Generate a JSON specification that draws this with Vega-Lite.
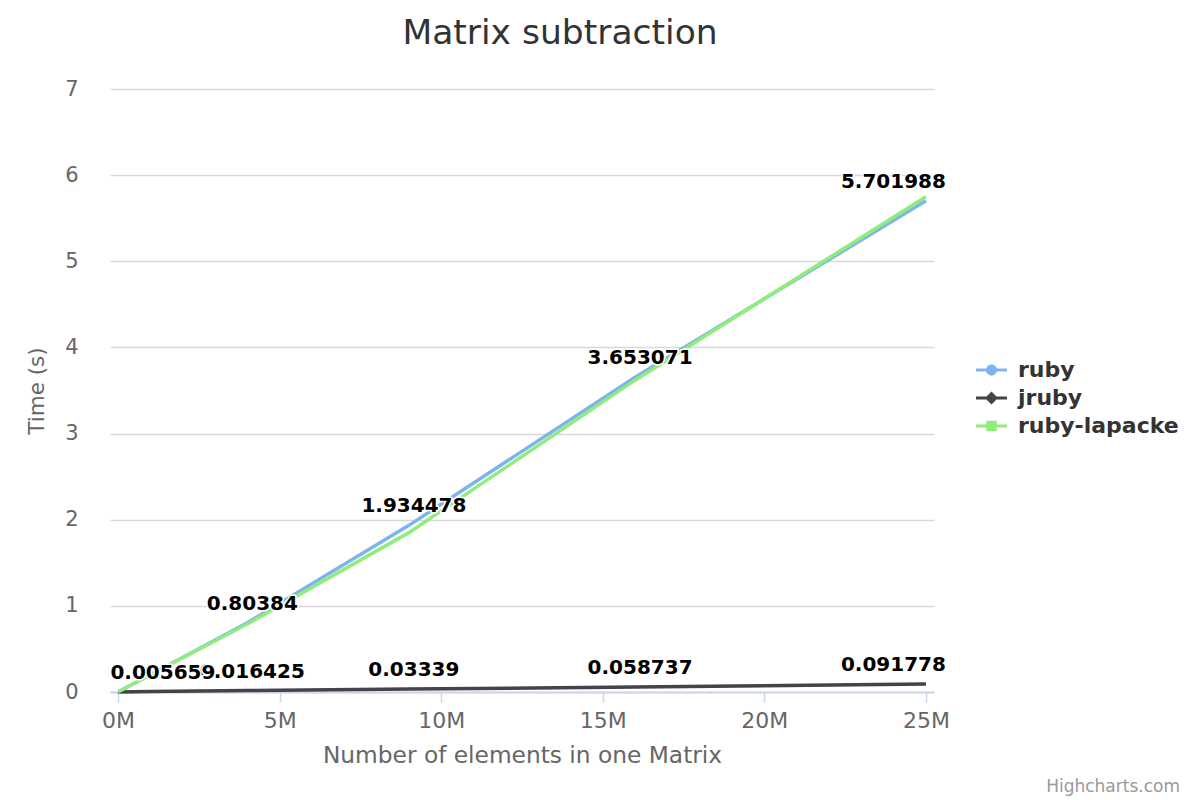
{
  "$schema": "https://vega.github.io/schema/vega-lite/v6.json",
  "width": 824,
  "height": 603,
  "autosize": {"type": "none"},
  "padding": {"left": 110, "top": 89, "right": 266, "bottom": 108},
  "background": "#ffffff",
  "title": {
    "text": "Matrix subtraction",
    "frame": "group",
    "anchor": "middle",
    "baseline": "alphabetic",
    "offset": 0,
    "dx": 38,
    "font": "DejaVu Sans",
    "fontSize": 34.5,
    "fontWeight": "normal",
    "color": "#333333"
  },
  "data": {
    "values": [
      {"series": "ruby", "elements": 10000, "time": 0.002},
      {"series": "ruby", "elements": 1000000, "time": 0.2},
      {"series": "ruby", "elements": 4000000, "time": 0.80384},
      {"series": "ruby", "elements": 9000000, "time": 1.934478},
      {"series": "ruby", "elements": 16000000, "time": 3.653071},
      {"series": "ruby", "elements": 25000000, "time": 5.701988},
      {"series": "jruby", "elements": 10000, "time": 0.0005},
      {"series": "jruby", "elements": 1000000, "time": 0.005659},
      {"series": "jruby", "elements": 4000000, "time": 0.016425},
      {"series": "jruby", "elements": 9000000, "time": 0.03339},
      {"series": "jruby", "elements": 16000000, "time": 0.058737},
      {"series": "jruby", "elements": 25000000, "time": 0.091778},
      {"series": "ruby-lapacke", "elements": 10000, "time": 0.002},
      {"series": "ruby-lapacke", "elements": 1000000, "time": 0.2},
      {"series": "ruby-lapacke", "elements": 4000000, "time": 0.79},
      {"series": "ruby-lapacke", "elements": 9000000, "time": 1.85},
      {"series": "ruby-lapacke", "elements": 16000000, "time": 3.62},
      {"series": "ruby-lapacke", "elements": 25000000, "time": 5.75}
    ]
  },
  "layer": [
    {
      "mark": {"type": "line", "strokeWidth": 3.5, "interpolate": "linear"},
      "encoding": {
        "x": {
          "field": "elements",
          "type": "quantitative",
          "scale": {"domain": [-250000, 25250000], "nice": false, "zero": false},
          "axis": {
            "title": "Number of elements in one Matrix",
            "values": [0, 5000000, 10000000, 15000000, 20000000, 25000000],
            "labelExpr": "(datum.value / 1000000) + 'M'",
            "grid": false,
            "domainColor": "#ccd6eb",
            "domainWidth": 2,
            "tickColor": "#ccd6eb",
            "tickWidth": 1.5,
            "tickSize": 10,
            "labelPadding": 8,
            "labelFontSize": 22,
            "labelColor": "#666666",
            "labelFont": "DejaVu Sans",
            "titleFont": "DejaVu Sans",
            "titleFontSize": 23.3,
            "titleFontWeight": "normal",
            "titleColor": "#666666",
            "titlePadding": 13
          }
        },
        "y": {
          "field": "time",
          "type": "quantitative",
          "scale": {"domain": [0, 7], "nice": false},
          "axis": {
            "title": "Time (s)",
            "values": [0, 1, 2, 3, 4, 5, 6, 7],
            "format": "d",
            "domain": false,
            "ticks": false,
            "grid": true,
            "gridColor": "#d8d8d8",
            "gridWidth": 1.5,
            "labelPadding": 32,
            "labelFontSize": 21,
            "labelColor": "#666666",
            "labelFont": "DejaVu Sans",
            "titleFont": "DejaVu Sans",
            "titleFontSize": 21.5,
            "titleFontWeight": "normal",
            "titleColor": "#666666",
            "titlePadding": 16
          }
        },
        "color": {
          "field": "series",
          "type": "nominal",
          "scale": {"domain": ["ruby", "jruby", "ruby-lapacke"], "range": ["#7cb5ec", "#434348", "#90ed7d"]},
          "legend": {
            "title": null,
            "orient": "none",
            "legendX": 870.5,
            "legendY": 270,
            "padding": 0,
            "symbolSize": 400,
            "symbolOpacity": 1,
            "symbolStrokeWidth": 0,
            "labelFont": "DejaVu Sans",
            "labelFontSize": 22,
            "labelFontWeight": "bold",
            "labelColor": "#333333",
            "labelOffset": 15.5,
            "labelLimit": 300,
            "rowPadding": 6
          }
        },
        "order": {"field": "elements", "type": "quantitative"}
      }
    },
    {
      "mark": {"type": "point", "filled": true, "opacity": 0},
      "encoding": {
        "x": {"field": "elements", "type": "quantitative"},
        "y": {"field": "time", "type": "quantitative"},
        "color": {"field": "series", "type": "nominal"},
        "shape": {
          "field": "series",
          "type": "nominal",
          "scale": {
            "domain": ["ruby", "jruby", "ruby-lapacke"],
            "range": [
              "M-1.55,-0.15H1.55V0.15H-1.55Z M-0.55,0A0.55,0.55 0 1,1 0.55,0A0.55,0.55 0 1,1 -0.55,0Z",
              "M-1.55,-0.15H1.55V0.15H-1.55Z M0,-0.65L0.65,0L0,0.65L-0.65,0Z",
              "M-1.55,-0.15H1.55V0.15H-1.55Z M-0.52,-0.52H0.52V0.52H-0.52Z"
            ]
          },
          "legend": {
            "title": null,
            "orient": "none",
            "legendX": 870.5,
            "legendY": 270,
            "padding": 0,
            "symbolSize": 400,
            "symbolOpacity": 1,
            "symbolStrokeWidth": 0,
            "labelFont": "DejaVu Sans",
            "labelFontSize": 22,
            "labelFontWeight": "bold",
            "labelColor": "#333333",
            "labelOffset": 15.5,
            "labelLimit": 300,
            "rowPadding": 6
          }
        }
      }
    },
    {
      "transform": [{"filter": "(datum.series == 'ruby' || datum.series == 'jruby') && datum.elements >= 4000000 && datum.elements < 25000000"}],
      "encoding": {
        "x": {"field": "elements", "type": "quantitative"},
        "y": {"field": "time", "type": "quantitative"},
        "text": {"field": "time", "type": "quantitative", "format": ".7~g"}
      },
      "layer": [
        {"mark": {"type": "text", "align": "center", "baseline": "middle", "dx": 5, "dy": -19, "font": "DejaVu Sans", "fontSize": 20, "fontWeight": "bold", "stroke": "#ffffff", "strokeWidth": 3, "strokeJoin": "round", "fill": "#ffffff"}},
        {"mark": {"type": "text", "align": "center", "baseline": "middle", "dx": 5, "dy": -19, "font": "DejaVu Sans", "fontSize": 20, "fontWeight": "bold", "fill": "#000000"}}
      ]
    },
    {
      "transform": [{"filter": "datum.series == 'jruby' && datum.elements == 1000000"}],
      "encoding": {
        "x": {"field": "elements", "type": "quantitative"},
        "y": {"field": "time", "type": "quantitative"},
        "text": {"field": "time", "type": "quantitative", "format": ".7~g"}
      },
      "layer": [
        {"mark": {"type": "text", "align": "left", "baseline": "middle", "dx": -40, "dy": -19, "font": "DejaVu Sans", "fontSize": 20, "fontWeight": "bold", "stroke": "#ffffff", "strokeWidth": 3, "strokeJoin": "round", "fill": "#ffffff"}},
        {"mark": {"type": "text", "align": "left", "baseline": "middle", "dx": -40, "dy": -19, "font": "DejaVu Sans", "fontSize": 20, "fontWeight": "bold", "fill": "#000000"}}
      ]
    },
    {
      "transform": [{"filter": "(datum.series == 'ruby' || datum.series == 'jruby') && datum.elements == 25000000"}],
      "encoding": {
        "x": {"field": "elements", "type": "quantitative"},
        "y": {"field": "time", "type": "quantitative"},
        "text": {"field": "time", "type": "quantitative", "format": ".7~g"}
      },
      "layer": [
        {"mark": {"type": "text", "align": "right", "baseline": "middle", "dx": 20, "dy": -19, "font": "DejaVu Sans", "fontSize": 20, "fontWeight": "bold", "stroke": "#ffffff", "strokeWidth": 3, "strokeJoin": "round", "fill": "#ffffff"}},
        {"mark": {"type": "text", "align": "right", "baseline": "middle", "dx": 20, "dy": -19, "font": "DejaVu Sans", "fontSize": 20, "fontWeight": "bold", "fill": "#000000"}}
      ]
    },
    {
      "data": {"values": [{"credit": "Highcharts.com"}]},
      "mark": {"type": "text", "align": "right", "baseline": "middle", "dx": 246, "font": "DejaVu Sans", "fontSize": 17, "fill": "#999999"},
      "encoding": {
        "x": {"datum": 25250000, "type": "quantitative"},
        "y": {"datum": -1.1, "type": "quantitative"},
        "text": {"field": "credit", "type": "nominal"}
      }
    }
  ],
  "config": {
    "view": {"stroke": null},
    "font": "DejaVu Sans"
  }
}
